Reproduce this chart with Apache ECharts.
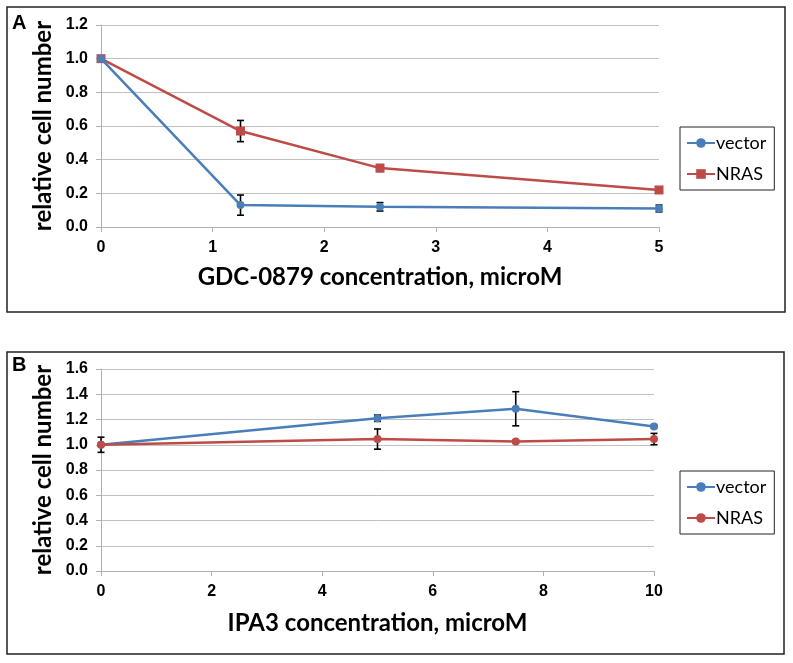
<!DOCTYPE html>
<html><head><meta charset="utf-8">
<script src="https://cdn.jsdelivr.net/npm/echarts@6/dist/echarts.min.js"></script>
<style>html,body{margin:0;padding:0;background:#fff}#c{width:793px;height:663px}</style>
</head><body><div id="c"></div>
<script>
// Panel A data
const xA = [0, 1.25, 2.5, 5];
const vectorA = [1.0, 0.13, 0.12, 0.11];
const vectorAErr = [0.0, 0.06, 0.025, 0.02];
const nrasA = [1.0, 0.57, 0.35, 0.22];
const nrasAErr = [0.01, 0.063, 0.02, 0.015];
// Panel B data
const xB = [0, 5, 7.5, 10];
const vectorB = [1.0, 1.21, 1.285, 1.145];
const vectorBErr = [0.0, 0.025, 0.135, 0.01];
const nrasB = [1.0, 1.045, 1.025, 1.045];
const nrasBErr = [0.06, 0.08, 0.01, 0.045];
// labels
const yTitle = 'relative cell number';
const xTitleA = 'GDC-0879 concentration, microM';
const xTitleB = 'IPA3 concentration, microM';

const BLUE = '#4a7ebb', RED = '#be4b48';
const pairs = (xs, ys) => xs.map((x, i) => [x, ys[i]]);
const errs = (xs, ys, es) => xs.map((x, i) => [x, ys[i], es[i]]);

function errRender(params, api) {
  const x = api.value(0), y = api.value(1), e = api.value(2);
  if (!e) return null;
  const t = api.coord([x, y + e]), b = api.coord([x, y - e]);
  const w = 3.5;
  const st = {stroke: '#000', lineWidth: 1.6};
  return {type: 'group', children: [
    {type: 'line', shape: {x1: t[0], y1: t[1], x2: b[0], y2: b[1]}, style: st},
    {type: 'line', shape: {x1: t[0]-w, y1: t[1], x2: t[0]+w, y2: t[1]}, style: st},
    {type: 'line', shape: {x1: b[0]-w, y1: b[1], x2: b[0]+w, y2: b[1]}, style: st}
  ]};
}

const tickFont = {fontFamily: 'Liberation Sans, Arial', fontWeight: 'bold', fontSize: 16, color: '#000'};
const titleFont = {fontFamily: 'Lato', fontWeight: 'bold', fontSize: 24, color: '#000'};
const gray = '#b0b0b0';

function xAxis(idx, max, interval, name, gap) {
  return {type: 'value', gridIndex: idx, min: 0, max: max, interval: interval,
    name: name, nameLocation: 'middle', nameGap: gap, nameTextStyle: titleFont,
    axisLine: {show: true, lineStyle: {color: gray, width: 1}},
    axisTick: {show: true, length: 5, lineStyle: {color: gray}},
    axisLabel: Object.assign({margin: 13}, tickFont),
    splitLine: {show: false}};
}
function yAxis(idx, max, name) {
  return {type: 'value', gridIndex: idx, min: 0, max: max, interval: 0.2,
    name: name, nameLocation: 'middle', nameGap: 46, nameTextStyle: titleFont,
    axisLine: {show: true, lineStyle: {color: gray, width: 1}},
    axisTick: {show: true, length: 5, lineStyle: {color: gray}},
    axisLabel: Object.assign({margin: 13, formatter: v => v.toFixed(1)}, tickFont),
    splitLine: {show: true, lineStyle: {color: '#c0c0c0', width: 1}}};
}
function legend(top, names) {
  return {orient: 'vertical', left: 680, top: top, data: names,
    formatter: n => n.replace('_B', ''),
    backgroundColor: '#fff', borderColor: '#222', borderWidth: 1,
    padding: [7, 8, 7, 6], itemGap: 13, itemWidth: 28, itemHeight: 12,
    textStyle: {fontFamily: 'Lato', fontSize: 18, color: '#000', padding: [0, 0, 0, -4]}};
}

const chart = echarts.init(document.getElementById('c'), null, {renderer: 'canvas'});
chart.setOption({
  animation: false,
  graphic: [
    {type: 'rect', shape: {x: 7, y: 7, width: 778, height: 305}, style: {fill: 'none', stroke: '#222', lineWidth: 1.5}, z: -1},
    {type: 'rect', shape: {x: 7, y: 352, width: 777, height: 302}, style: {fill: 'none', stroke: '#222', lineWidth: 1.5}, z: -1},
    {type: 'text', left: 12, top: 13, style: {text: 'A', font: 'bold 20px Liberation Sans, Arial', fill: '#000'}},
    {type: 'text', left: 12, top: 355, style: {text: 'B', font: 'bold 20px Liberation Sans, Arial', fill: '#000'}}
  ],
  grid: [
    {left: 101, top: 25, width: 558, height: 202},
    {left: 101, top: 369, width: 553, height: 202}
  ],
  xAxis: [xAxis(0, 5, 1, xTitleA, 38), xAxis(1, 10, 2, xTitleB, 40)],
  yAxis: [yAxis(0, 1.2, yTitle), yAxis(1, 1.6, yTitle)],
  legend: [legend(127, ['vector', 'NRAS']), legend(471, ['vector_B', 'NRAS_B'])],
  series: [
    {type: 'custom', xAxisIndex: 0, yAxisIndex: 0, renderItem: errRender, data: errs(xA, vectorA, vectorAErr), z: 1, silent: true},
    {type: 'custom', xAxisIndex: 0, yAxisIndex: 0, renderItem: errRender, data: errs(xA, nrasA, nrasAErr), z: 1, silent: true},
    {type: 'line', name: 'vector', xAxisIndex: 0, yAxisIndex: 0, data: pairs(xA, vectorA),
      color: BLUE, lineStyle: {width: 2.5}, symbol: 'circle', symbolSize: 8, z: 3},
    {type: 'line', name: 'NRAS', xAxisIndex: 0, yAxisIndex: 0, data: pairs(xA, nrasA),
      color: RED, lineStyle: {width: 2.5}, symbol: 'rect', symbolSize: 9, z: 2},
    {type: 'custom', xAxisIndex: 1, yAxisIndex: 1, renderItem: errRender, data: errs(xB, vectorB, vectorBErr), z: 1, silent: true},
    {type: 'custom', xAxisIndex: 1, yAxisIndex: 1, renderItem: errRender, data: errs(xB, nrasB, nrasBErr), z: 1, silent: true},
    {type: 'line', name: 'vector_B', xAxisIndex: 1, yAxisIndex: 1, data: pairs(xB, vectorB),
      color: BLUE, lineStyle: {width: 2.5}, symbol: 'circle', symbolSize: 8, z: 2},
    {type: 'line', name: 'NRAS_B', xAxisIndex: 1, yAxisIndex: 1, data: pairs(xB, nrasB),
      color: RED, lineStyle: {width: 2.5}, symbol: 'circle', symbolSize: 8, z: 3}
  ]
});
</script></body></html>
